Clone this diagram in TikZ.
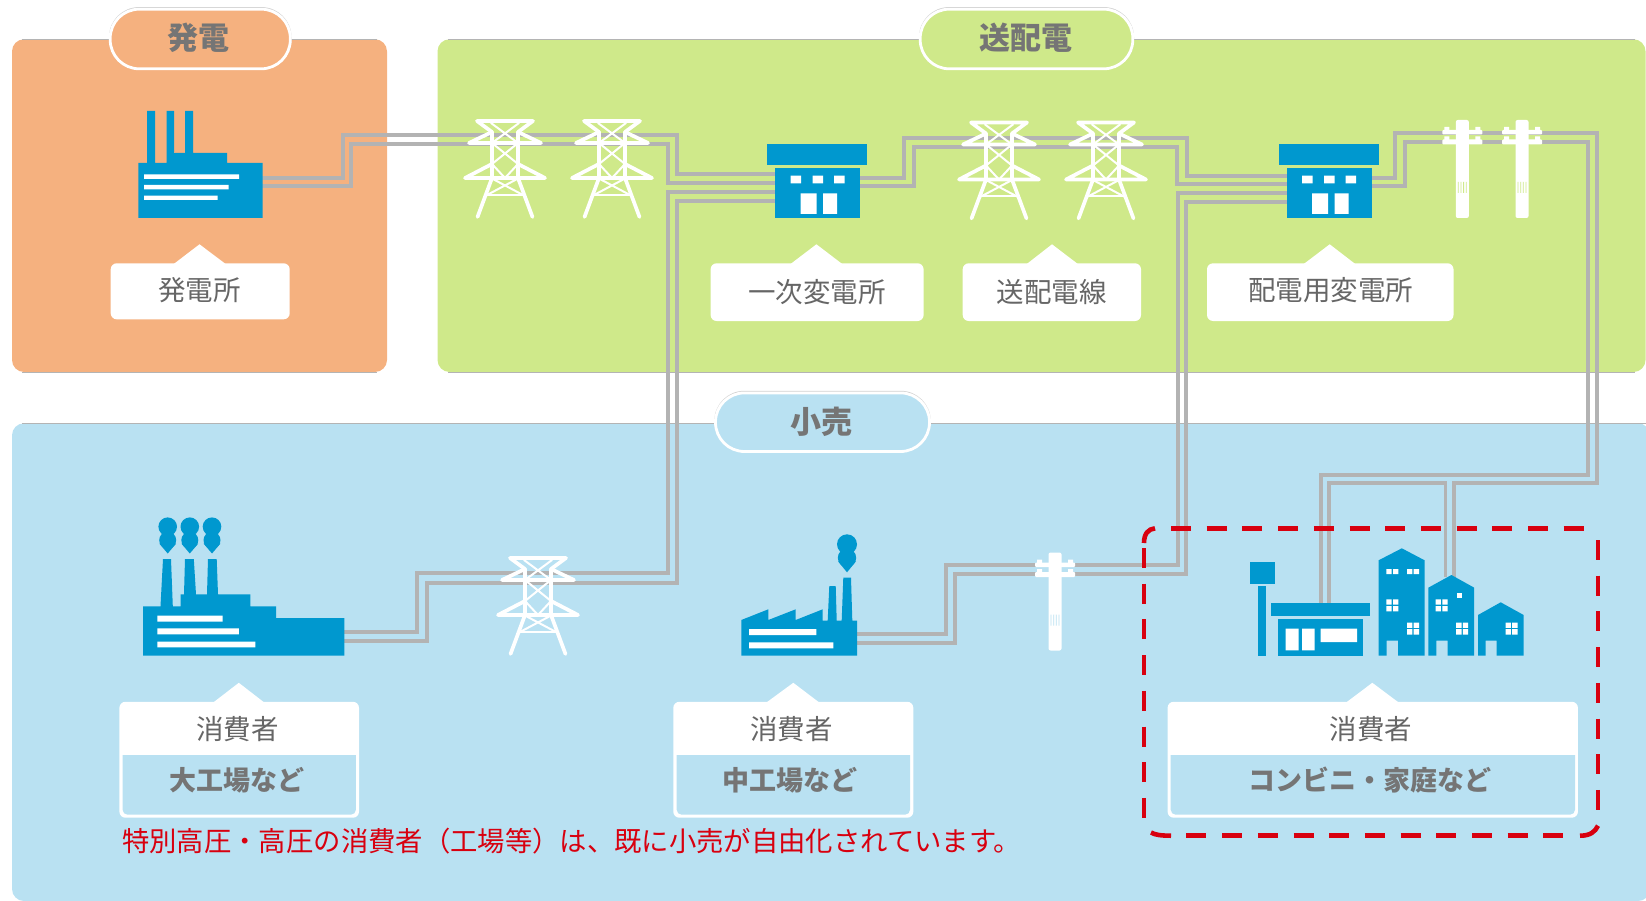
\documentclass[tikz,border=0pt]{standalone}
\usepackage{fontspec}
\setmainfont{Noto Sans CJK JP}
\definecolor{panelO}{HTML}{F5B17F}
\definecolor{panelG}{HTML}{CFE98A}
\definecolor{panelB}{HTML}{B9E1F2}
\definecolor{iconB}{HTML}{0098CF}
\definecolor{wirec}{HTML}{B3B3B3}
\definecolor{labelc}{HTML}{666666}
\definecolor{redc}{HTML}{D8000F}
\definecolor{edgec}{HTML}{B4B4B4}
\tikzset{
  wire/.style={draw=wirec,line width=3.5pt,line join=miter},
  towerline/.style={draw=white,line width=3.7pt,line cap=round,line join=round},
  towerthin/.style={draw=white,line width=2pt,line cap=round},
  reddash/.style={draw=redc,line width=4.6pt,dash pattern=on 20pt off 15.7pt},
  redarc/.style={draw=redc,line width=4.6pt},
  lab/.style={inner sep=0pt,text height=24.2pt,text depth=3.3pt,text=labelc,font=\fontsize{27.5}{30}\selectfont},
  labb/.style={lab,text height=23.8pt,text depth=3.2pt,text=labelc!90,font=\fontsize{27}{30}\selectfont\bfseries},
  pilltext/.style={lab,text height=27.3pt,text depth=3.7pt,text=labelc!90,font=\fontsize{31}{34}\selectfont\bfseries},
  edgeline/.style={draw=edgec,line width=.8pt},
}
\newcommand\towerat[2]{\begin{scope}[shift={(#1,#2)}]
  \draw[towerline] (-13,11)--(-28,0)--(28,0)--(13,11);
  \draw[towerline] (-13,11)--(-36,22)--(36,22)--(13,11);
  \draw[towerline] (-13,43)--(-40,57)--(40,57)--(13,43);
  \draw[towerline] (-13,11)--(-13,57)--(-27.5,96);
  \draw[towerline] (13,11)--(13,57)--(27.5,96);
  \draw[towerthin] (-18,74)--(18,74);
  \draw[towerthin] (-14,2)--(13,22) (14,2)--(-13,22);
  \draw[towerthin] (-13,22)--(13,43) (13,22)--(-13,43);
  \draw[towerthin] (-13,43)--(0,57)--(13,43) (-14,57)--(18,74) (14,57)--(-18,74);
\end{scope}}
\newcommand\poleat[3]{\begin{scope}[shift={(#1,#2)}]
  \fill[white,rounded corners=2] (-6.5,0) rectangle (6.5,98);
  \fill[white,rounded corners=1] (-20,10) rectangle (20,14.5);
  \fill[white,rounded corners=1] (-20,19.5) rectangle (20,24.5);
  \fill[white] (-18,7) rectangle (-13,11) (13,7) rectangle (18,11) (-18,16.5) rectangle (-13,20) (13,16.5) rectangle (18,20);
  \fill[#3] (-4.4,62) rectangle (-3.6,73) (-1.7,62) rectangle (-.9,73) (.9,62) rectangle (1.7,73) (3.6,62) rectangle (4.4,73);
\end{scope}}
\newcommand\smokeat[4]{% x, y of the upper centre, r, y of the tip
  \fill[iconB] (#1,#2) circle[radius=#3];
  \fill[iconB] (#1,#2+13.5) circle[radius=#3-.8];
  \fill[iconB] (#1-#3+1,#2+17)--(#1+#3-1,#2+17)--(#1,#4)--cycle;}
\newcommand\substationat[1]{\begin{scope}[shift={(#1,0)}]
  \fill[iconB] (-8,143.7) rectangle (92,165);
  \fill[iconB] (0,167.7) rectangle (85,218);
  \fill[white] (15.5,175.7) rectangle (26,183.3) (37.5,175.7) rectangle (48,183.3) (59,175.7) rectangle (69.5,183.3);
  \fill[white] (25.5,193.3) rectangle (41.5,214) (48,193.3) rectangle (62,214);
\end{scope}}
\newcommand\winfour[2]{\fill[white] (#1-6,#2-6) rectangle (#1-.7,#2-.7) (#1+.7,#2-6) rectangle (#1+6,#2-.7) (#1-6,#2+.7) rectangle (#1-.7,#2+6) (#1+.7,#2+.7) rectangle (#1+6,#2+6);}
\newcommand\wintwo[2]{\fill[white] (#1-6,#2-2.5) rectangle (#1-.7,#2+2.5) (#1+.7,#2-2.5) rectangle (#1+6,#2+2.5);}
\newcommand\callout[7]{% x1 x2 y1 y2 apex baseL baseR
  \fill[white,rounded corners=6] (#1,#3) rectangle (#2,#4);
  \fill[white] (#6,#3+.5)--(#5,#3-19)--(#7,#3+.5)--cycle;}
\newcommand\innerbox[2]{\fill[panelB] (#1,755)--(#2,755)[rounded corners=5]--(#2,814.7)--(#1,814.7)[rounded corners=0]--cycle;}
\newcommand\pillat[5]{% x1 x2 y1 y2 colour
  \fill[edgec!60,rounded corners=30] (#1,#3-.9) rectangle (#2,#4-.9);
  \draw[white,fill=#5,line width=2.8pt,rounded corners=29] (#1+1.2,#3+1.2) rectangle (#2-1.2,#4-1.2);}
\begin{document}
\begin{tikzpicture}[x=1pt,y=-1pt]
\useasboundingbox (0,0) rectangle (1646,901);
% panels
\fill[panelO,rounded corners=12] (12,39.3) rectangle (387,372);
\fill[panelG,rounded corners=12] (437.5,39.3) rectangle (1645.5,372);
\fill[panelB,rounded corners=12] (12,423.3) rectangle (1650,901);
\draw[edgeline] (22,39.3)--(377,39.3) (22,372)--(377,372);
\draw[edgeline] (448,39.3)--(1635,39.3) (448,372)--(1635,372);
\draw[edgeline] (22,423.3)--(1646,423.3);
% connector end points
\coordinate (genA) at (262,178);
\coordinate (genB) at (262,186);
\coordinate (subAwa) at (775,174);
\coordinate (subAwb) at (775,183);
\coordinate (subAwc) at (775,192);
\coordinate (subAwd) at (775,201);
\coordinate (subAea) at (860,178);
\coordinate (subAeb) at (860,186);
\coordinate (subBwa) at (1287,176);
\coordinate (subBwb) at (1287,184);
\coordinate (subBwc) at (1287,193);
\coordinate (subBwd) at (1287,202);
\coordinate (subBea) at (1371,178);
\coordinate (subBeb) at (1371,186);
\coordinate (bigA) at (344,632);
\coordinate (bigB) at (344,641);
\coordinate (midA) at (857,634);
\coordinate (midB) at (857,643);
\coordinate (shopA) at (1321,604);
\coordinate (shopB) at (1329,604);
\coordinate (houseA) at (1445.5,577);
\coordinate (houseB) at (1454,578);
% wires
\draw[wire] (genA)--(343,178)--(343,135)--(677,135)--(677,174)--(subAwa);
\draw[wire] (genB)--(351,186)--(351,144)--(668,144)--(668,183)--(subAwb);
\draw[wire] (subAwc)--(668,192)--(668,573)--(417,573)--(417,632)--(bigA);
\draw[wire] (subAwd)--(677,201)--(677,583)--(427,583)--(427,641)--(bigB);
\draw[wire] (subAea)--(904,178)--(904,138)--(1187,138)--(1187,176)--(subBwa);
\draw[wire] (subAeb)--(914,186)--(914,147)--(1177,147)--(1177,184)--(subBwb);
\draw[wire] (subBwc)--(1178,193)--(1178,565)--(946,565)--(946,634)--(midA);
\draw[wire] (subBwd)--(1186,202)--(1186,574)--(955,574)--(955,643)--(midB);
\draw[wire] (subBea)--(1395,178)--(1395,133)--(1597,133)--(1597,483)--(1454,483)--(houseB);
\draw[wire] (subBeb)--(1405,186)--(1405,142)--(1588,142)--(1588,475)--(1321,475)--(shopA);
\draw[wire] (shopB)--(1329,483)--(1445.5,483)--(houseA);
% pills
\pillat{109}{291.5}{8}{70}{panelO}
\pillat{919}{1134}{8}{70}{panelG}
\pillat{714.3}{930.7}{391.7}{452.7}{panelB}
\node[pilltext] (tGen) at (198.5,38) {発電};
\node[pilltext] (tTrans) at (1025.5,38) {送配電};
\node[pilltext] (tRetail) at (821,422) {小売};
% generator factory
\fill[iconB] (138.4,218)--(138.4,163)--(147,163)--(147,111)--(155,111)--(155,163)--(166.5,163)--(166.5,111)--(174,111)--(174,163)--(175,153)--(185,153)--(185,111)--(193,111)--(193,153)--(227,153)--(227,163)--(262.5,163)--(262.5,218)--cycle;
\fill[iconB] (174,153) rectangle (186,164);
\fill[white] (144,174.5) rectangle (239,179) (144,185) rectangle (228.6,189.5) (144,195.7) rectangle (217.5,200);
% towers
\towerat{505}{121}
\towerat{612}{121}
\towerat{999}{122.5}
\towerat{1106}{122.5}
\towerat{538}{558}
% substations
\substationat{775}
\substationat{1286.5}
% poles
\poleat{1462.3}{120}{panelG}
\poleat{1522}{120}{panelG}
\poleat{1055}{552.5}{panelB}
% big factory
\fill[iconB] (143,655.7)--(143,606.3)--(160.5,606.3)--(163,559)--(171,559)--(172.8,606.3)--(180.7,606.3)--(180.7,594.3)--(184,594.3)--(185,559)--(193.8,559)--(196,594.3)--(207,594.3)--(208,559)--(216.7,559)--(218,594.3)--(250.3,594.3)--(250.3,606.3)--(276,606.3)--(276,618)--(344.4,618)--(344.4,655.7)--cycle;
\fill[white] (157.4,615.7) rectangle (222.6,621.7) (157.4,628.3) rectangle (238.8,634.3) (157.4,641.7) rectangle (255.4,647.3);
\smokeat{167.7}{526.7}{9.3}{553.5}
\smokeat{189.8}{526.7}{9.3}{553.5}
\smokeat{212}{526.7}{9.3}{553.5}
% medium factory
\fill[iconB] (741.3,655.7)--(741.3,620)--(768.3,609.3)--(768.3,620)--(795.7,609.3)--(795.7,620)--(822.7,609.3)--(822.7,620.5)--(827.7,620.5)--(829.3,586)--(835.7,586)--(836.7,620.5)--(841.7,620.5)--(843.3,577.7)--(851,577.7)--(852.3,620.5)--(857,620.5)--(857,655.7)--cycle;
\fill[white] (749,629) rectangle (816.3,635) (749,642.3) rectangle (833.3,648.3);
\smokeat{847}{544.3}{10}{572.3}
% shop
\fill[iconB] (1249.5,561.7) rectangle (1274.6,583.7);
\fill[iconB] (1258,586) rectangle (1266.3,655.7);
\fill[iconB] (1270.6,603) rectangle (1370,616.3);
\fill[iconB] (1278.3,618.7) rectangle (1362.9,655.7);
\fill[white] (1285.7,628.7) rectangle (1298.5,650.3) (1302,628.7) rectangle (1314.6,650.3) (1320.6,628.7) rectangle (1357.2,642);
% houses
\fill[iconB] (1378.6,655.7)--(1378.6,560.3)--(1401.8,548.3)--(1424.6,560.3)--(1424.6,655.7)--(1398,655.7)--(1398,640.7)--(1386.7,640.7)--(1386.7,655.7)--cycle;
\fill[iconB] (1428.3,655.7)--(1428.3,587.7)--(1451.4,575)--(1474.2,587.7)--(1474.2,655.7)--(1447.7,655.7)--(1447.7,640.7)--(1436.3,640.7)--(1436.3,655.7)--cycle;
\fill[iconB] (1478,655.7)--(1478,615)--(1500.7,602.3)--(1523.6,615)--(1523.6,655.7)--(1496.7,655.7)--(1496.7,640.7)--(1485.7,640.7)--(1485.7,655.7)--cycle;
\wintwo{1392.4}{571.7}
\wintwo{1413}{571.7}
\winfour{1392.4}{605.3}
\winfour{1413}{628.5}
\fill[white] (1457.2,592.5) rectangle (1462,597.5);
\winfour{1441.6}{605.3}
\winfour{1462.2}{628.5}
\winfour{1511.5}{628.5}
% red frame
\draw[reddash] (1171,528.3)--(1586,528.3);
\draw[reddash] (1598,540)--(1598,810);
\draw[reddash] (1186.4,835.7)--(1565,835.7);
\draw[reddash] (1144,548)--(1144,820);
\draw[redarc] (1144,543) .. controls (1144,534) and (1148,529) .. (1155,528.3);
\draw[redarc] (1151,832.5) .. controls (1155,835) and (1162,835.7) .. (1171,835.7);
\draw[redarc] (1580,835.7) .. controls (1590,835.7) and (1595,832) .. (1598,825.7);
% callouts
\callout{110.7}{289.7}{263.3}{319.3}{199.5}{174}{225.4}
\callout{710.6}{923.6}{263.3}{321}{816.4}{790.8}{842}
\callout{962.7}{1141}{263.3}{321}{1052}{1027}{1077.6}
\callout{1207}{1453.5}{263.3}{321}{1329.7}{1304}{1355}
\node[lab] (lGen) at (199.5,290) {発電所};
\node[lab] (lSubA) at (817,292) {一次変電所};
\node[lab] (lLine) at (1051.5,292) {送配電線};
\node[lab] (lSubB) at (1330.5,290) {配電用変電所};
\callout{119.4}{359}{701.8}{817.7}{238.8}{213.5}{264}
\callout{673.3}{913.3}{701.8}{817.7}{793.3}{766.7}{819}
\callout{1167.6}{1577.9}{701.8}{817.7}{1372.3}{1346.4}{1398.4}
\innerbox{122.6}{355.9}
\innerbox{676.7}{910}
\innerbox{1170.7}{1575}
\node[lab] (cA) at (237.5,729.3) {消費者};
\node[labb] (cAs) at (236.5,780.5) {大工場など};
\node[lab] (cB) at (791.5,729.3) {消費者};
\node[labb] (cBs) at (790,780.5) {中工場など};
\node[lab] (cC) at (1371,729.3) {消費者};
\node[labb] (cCs) at (1370,780.5) {コンビニ・家庭など};
\node[lab,text=redc,anchor=west,font=\fontsize{27.35}{30}\selectfont] (note) at (122,841.2) {特別高圧・高圧の消費者（工場等）は、既に小売が自由化されています。};
\end{tikzpicture}
\end{document}
